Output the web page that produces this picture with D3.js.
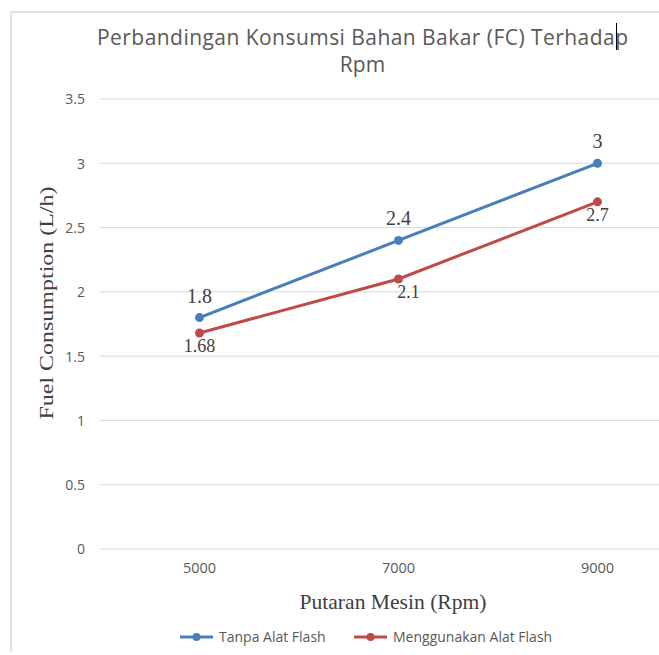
<!DOCTYPE html>
<html><head><meta charset="utf-8">
<script src="https://cdn.jsdelivr.net/npm/d3@7"></script>
<style>body{margin:0;background:#fff;}svg{display:block;}</style>
</head><body>
<script>
const categories = ["5000", "7000", "9000"];
const seriesNames = ["Tanpa Alat Flash", "Menggunakan Alat Flash"];
const tanpa = [1.8, 2.4, 3];
const menggunakan = [1.68, 2.1, 2.7];
const yTicks = [0, 0.5, 1, 1.5, 2, 2.5, 3, 3.5];
const colors = ["#4A7EBB", "#BE4B48"];

const W = 659, H = 655;
const svg = d3.select("body").append("svg").attr("width", W).attr("height", H);

// chart border (left & top visible)
svg.append("line").attr("x1", 11).attr("x2", 11).attr("y1", 12).attr("y2", 652).attr("stroke", "#d9d9d9").attr("stroke-width", 1.5);
svg.append("line").attr("x1", 11).attr("x2", 659).attr("y1", 12).attr("y2", 12).attr("stroke", "#d9d9d9").attr("stroke-width", 1.5);

const x = d3.scaleBand().domain(categories).range([100, 697]);
const y = d3.scaleLinear().domain([0, 3.5]).range([549, 99]);
const cx = d => x(d) + x.bandwidth() / 2;

// gridlines
svg.append("g").selectAll("line").data(yTicks).join("line")
  .attr("x1", 100).attr("x2", 697).attr("y1", d => y(d)).attr("y2", d => y(d))
  .attr("stroke", "#d9d9d9").attr("stroke-width", 1);

// y axis labels
const yAxis = d3.axisLeft(y).tickValues(yTicks).tickSize(0).tickPadding(0).tickFormat(d => String(d));
const gy = svg.append("g").attr("transform", "translate(85,0)").call(yAxis);
gy.select(".domain").remove();
gy.selectAll("text").attr("font-family", "'Open Sans', sans-serif").attr("font-size", 14).attr("fill", "#595959").attr("dy", "0.35em");

// x axis labels
const xAxis = d3.axisBottom(x).tickSize(0).tickPadding(0);
const gx = svg.append("g").attr("transform", "translate(0,563)").call(xAxis);
gx.select(".domain").remove();
gx.selectAll("text").attr("font-family", "'Open Sans', sans-serif").attr("font-size", 14.5).attr("fill", "#595959").attr("dy", "0.71em");

// title
const title = svg.append("text").attr("text-anchor", "middle").attr("font-family", "'Open Sans', sans-serif").attr("font-size", 21).attr("fill", "#595959");
title.append("tspan").attr("x", 362.5).attr("y", 45).attr("textLength", 531).attr("lengthAdjust", "spacing").text("Perbandingan Konsumsi Bahan Bakar (FC) Terhadap");
title.append("tspan").attr("x", 362.5).attr("y", 72).text("Rpm");
// text caret
svg.append("line").attr("x1", 616.5).attr("x2", 616.5).attr("y1", 23).attr("y2", 50).attr("stroke", "#000").attr("stroke-width", 1);

// axis titles
svg.append("text").attr("transform", "translate(53,303) rotate(-90)").attr("text-anchor", "middle")
  .attr("font-family", "'Liberation Serif', serif").attr("font-size", 19).attr("fill", "#404040")
  .attr("textLength", 233).attr("lengthAdjust", "spacingAndGlyphs").text("Fuel Consumption (L/h)");
svg.append("text").attr("x", 393).attr("y", 609).attr("text-anchor", "middle")
  .attr("font-family", "'Liberation Serif', serif").attr("font-size", 21).attr("fill", "#404040")
  .attr("textLength", 187).attr("lengthAdjust", "spacingAndGlyphs").text("Putaran Mesin (Rpm)");

// lines
const series = [tanpa, menggunakan];
const line = d3.line().x((d, i) => cx(categories[i])).y(d => y(d));
series.forEach((s, k) => {
  svg.append("path").datum(s).attr("d", line).attr("fill", "none").attr("stroke", colors[k]).attr("stroke-width", 3).attr("stroke-linecap", "round");
  svg.append("g").selectAll("circle").data(s).join("circle")
    .attr("cx", (d, i) => cx(categories[i])).attr("cy", d => y(d)).attr("r", 4.5).attr("fill", colors[k]);
});

// data labels
svg.append("g").selectAll("text").data(tanpa).join("text")
  .attr("x", (d, i) => cx(categories[i])).attr("y", d => y(d) - 15).attr("text-anchor", "middle")
  .attr("font-family", "'Liberation Serif', serif").attr("font-size", 20).attr("fill", "#404040").text(d => String(d));
const redDx = [0, 10, 0];
svg.append("g").selectAll("text").data(menggunakan).join("text")
  .attr("x", (d, i) => cx(categories[i]) + redDx[i]).attr("y", d => y(d) + 19).attr("text-anchor", "middle")
  .attr("font-family", "'Liberation Serif', serif").attr("font-size", 18).attr("fill", "#404040").text(d => String(d));

// legend
const legendX = [180, 354];
seriesNames.forEach((n, k) => {
  const g = svg.append("g").attr("transform", `translate(${legendX[k]},637)`);
  g.append("line").attr("x1", 0).attr("x2", 33).attr("y1", 0).attr("y2", 0).attr("stroke", colors[k]).attr("stroke-width", 3);
  g.append("circle").attr("cx", 16.5).attr("cy", 0).attr("r", 4).attr("fill", colors[k]);
  g.append("text").attr("x", 39).attr("y", 0).attr("dy", "0.35em").attr("font-family", "'Open Sans', sans-serif").attr("font-size", 14).attr("fill", "#595959").text(n);
});
</script>
</body></html>
